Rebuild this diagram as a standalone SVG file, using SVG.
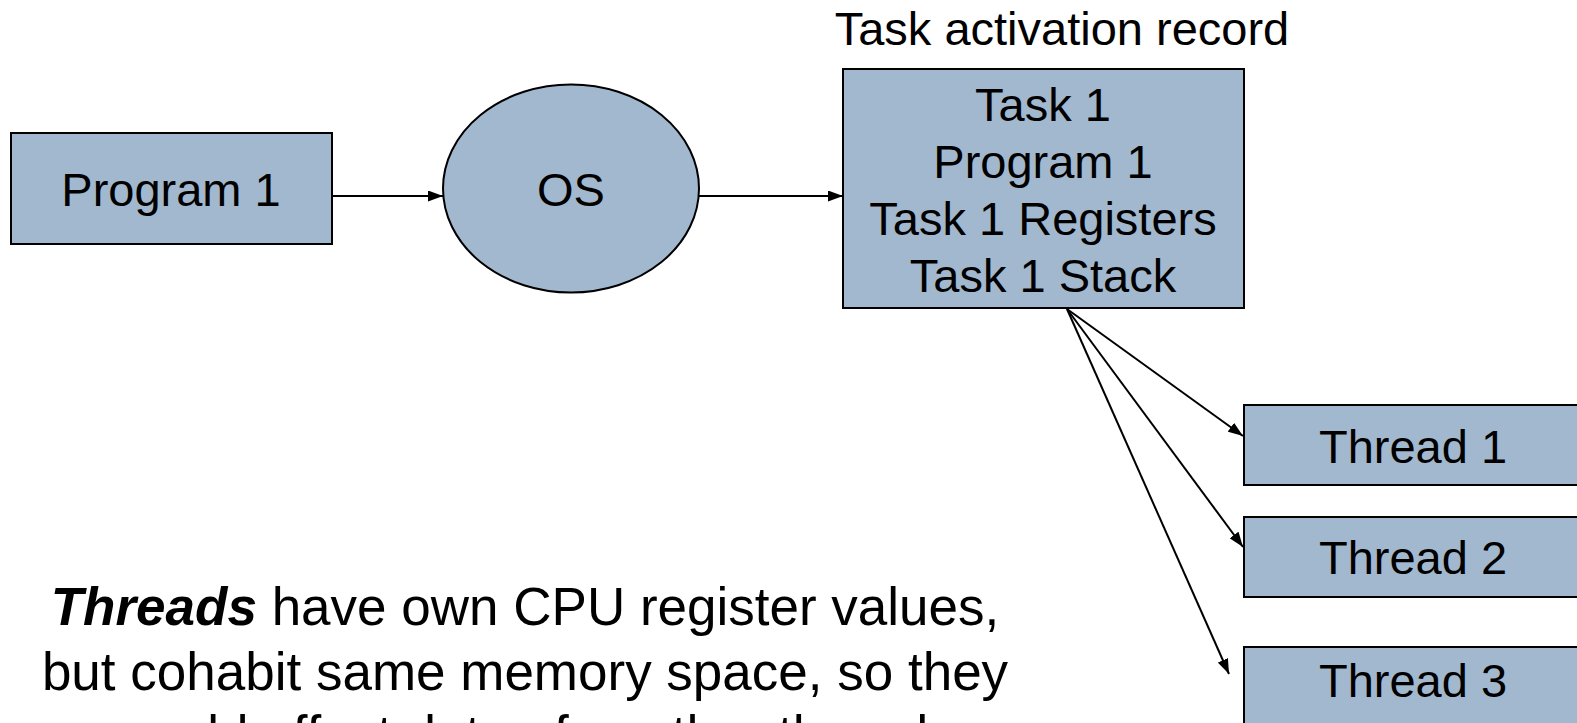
<svg xmlns="http://www.w3.org/2000/svg" width="1577" height="723" viewBox="0 0 1577 723">
<style>
.box{fill:#a2b8ce;stroke:#000;stroke-width:2}
.t{font-family:"Liberation Sans",Arial,sans-serif;font-size:47px;fill:#000;text-anchor:middle}
.big{font-family:"Liberation Sans",Arial,sans-serif;font-size:53px;fill:#000;text-anchor:middle}
.con{stroke:#000;stroke-width:2;fill:none;marker-end:url(#ah)}
</style>
<defs>
<marker id="ah" viewBox="0 0 15 11" refX="15" refY="5.5" markerWidth="7.5" markerHeight="5.5" markerUnits="strokeWidth" orient="auto">
<path d="M0,0 L15,5.5 L0,11 z" fill="#000"/>
</marker>
</defs>
<rect width="1577" height="723" fill="#fff"/>
<g id="connectors">
<line class="con" x1="332" y1="196" x2="443" y2="196"/>
<line class="con" x1="699" y1="196" x2="843" y2="196"/>
<line class="con" x1="1067" y1="309" x2="1243" y2="436"/>
<line class="con" x1="1067" y1="309" x2="1243" y2="547"/>
<line class="con" x1="1067" y1="309" x2="1229" y2="674"/>
</g>
<g id="program1">
<rect class="box" x="11" y="133" width="321" height="111"/>
<text class="t" x="171" y="206">Program 1</text>
</g>
<g id="os">
<ellipse class="box" cx="571" cy="188.5" rx="128" ry="104"/>
<text class="t" x="571" y="206">OS</text>
</g>
<g id="task-record">
<text class="t" x="1062" y="45">Task activation record</text>
<rect class="box" x="843" y="69" width="401" height="239"/>
<text class="t" x="1043" y="121">Task 1</text>
<text class="t" x="1043" y="178">Program 1</text>
<text class="t" x="1043" y="235">Task 1 Registers</text>
<text class="t" x="1043" y="292">Task 1 Stack</text>
</g>
<g id="thread1">
<rect class="box" x="1244" y="405" width="340" height="80"/>
<text class="t" x="1413" y="463">Thread 1</text>
</g>
<g id="thread2">
<rect class="box" x="1244" y="517" width="340" height="80"/>
<text class="t" x="1413" y="574">Thread 2</text>
</g>
<g id="thread3">
<rect class="box" x="1244" y="647" width="340" height="80"/>
<text class="t" x="1413" y="697">Thread 3</text>
</g>
<g id="note">
<text class="big" x="525" y="625"><tspan font-weight="bold" font-style="italic">Threads</tspan> have own CPU register values,</text>
<text class="big" x="525" y="690">but cohabit same memory space, so they</text>
<text class="big" x="525" y="753">could affect data of another thread</text>
</g>
</svg>
